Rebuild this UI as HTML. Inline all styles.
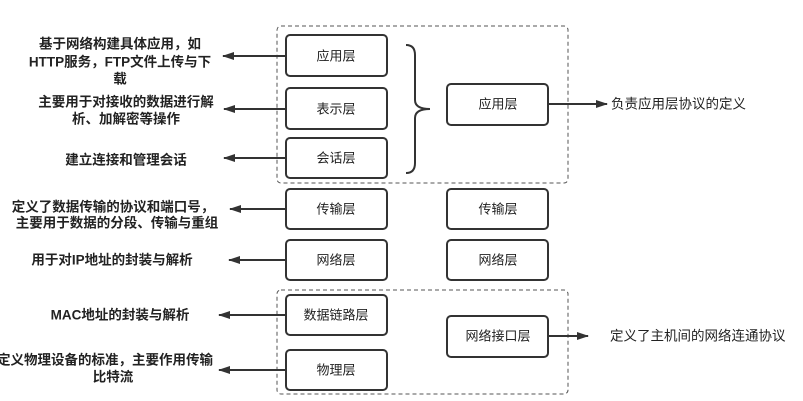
<!DOCTYPE html>
<html><head><meta charset="utf-8"><style>
body{margin:0;background:#fff;}
svg{display:block;font-family:"Liberation Sans","Noto Sans CJK SC",sans-serif;}
.b{fill:#fff;stroke:#333;stroke-width:2;}
.t{font-size:13px;fill:#222;text-anchor:middle;dominant-baseline:central;}
.l{font-size:13.5px;fill:#222;text-anchor:middle;dominant-baseline:central;font-weight:bold;}
.a{stroke:#333;stroke-width:2;fill:none;}
.d{fill:none;stroke:#555;stroke-width:1;stroke-dasharray:4,3;}
.r{font-size:13.5px;fill:#222;dominant-baseline:central;}
</style></head><body>
<svg width="803" height="401" viewBox="0 0 803 401">
<defs><marker id="m" markerWidth="12" markerHeight="8" refX="11" refY="4" orient="auto" markerUnits="userSpaceOnUse"><path d="M0,0 L12,4 L0,8 Z" fill="#333"/></marker></defs>
<rect class="d" x="277" y="26" width="291" height="157" rx="4"/>
<rect class="d" x="277" y="290" width="291" height="104" rx="4"/>
<rect class="b" x="286" y="35" width="101" height="41" rx="4"/><text class="t" x="336" y="56">应用层</text>
<rect class="b" x="286" y="88" width="101" height="41" rx="4"/><text class="t" x="336" y="109">表示层</text>
<rect class="b" x="286" y="138" width="101" height="40" rx="4"/><text class="t" x="336" y="158">会话层</text>
<rect class="b" x="286" y="189" width="101" height="40" rx="4"/><text class="t" x="336" y="209">传输层</text>
<rect class="b" x="286" y="240" width="101" height="40" rx="4"/><text class="t" x="336" y="260">网络层</text>
<rect class="b" x="286" y="295" width="101" height="40" rx="4"/><text class="t" x="336" y="315">数据链路层</text>
<rect class="b" x="286" y="350" width="101" height="40" rx="4"/><text class="t" x="336" y="370">物理层</text>
<rect class="b" x="447" y="84" width="101" height="41" rx="4"/><text class="t" x="498" y="104">应用层</text>
<rect class="b" x="447" y="189" width="101" height="40" rx="4"/><text class="t" x="498" y="209">传输层</text>
<rect class="b" x="447" y="240" width="101" height="40" rx="4"/><text class="t" x="498" y="260">网络层</text>
<rect class="b" x="447" y="316" width="101" height="41" rx="4"/><text class="t" x="498" y="336">网络接口层</text>
<path class="a" d="M406,45 Q415,45 415,55 L415,100 Q415,109 430,109 Q415,109 415,118 L415,163 Q415,173 406,173"/>
<line class="a" x1="286" y1="56" x2="223" y2="56" marker-end="url(#m)"/>
<line class="a" x1="286" y1="109" x2="224" y2="109" marker-end="url(#m)"/>
<line class="a" x1="286" y1="158" x2="224" y2="158" marker-end="url(#m)"/>
<line class="a" x1="286" y1="209" x2="230" y2="209" marker-end="url(#m)"/>
<line class="a" x1="286" y1="260" x2="229" y2="260" marker-end="url(#m)"/>
<line class="a" x1="286" y1="315" x2="219" y2="315" marker-end="url(#m)"/>
<line class="a" x1="286" y1="370" x2="219" y2="370" marker-end="url(#m)"/>
<line class="a" x1="548" y1="104" x2="607" y2="104" marker-end="url(#m)"/>
<line class="a" x1="548" y1="336" x2="588" y2="336" marker-end="url(#m)"/>
<text class="r" x="611" y="104">负责应用层协议的定义</text>
<text class="r" x="610" y="336">定义了主机间的网络连通协议</text>
<text class="l" x="120" y="44">基于网络构建具体应用，如</text>
<text class="l" x="120" y="62">HTTP服务，FTP文件上传与下</text>
<text class="l" x="120" y="79">载</text>
<text class="l" x="126" y="102">主要用于对接收的数据进行解</text>
<text class="l" x="126" y="119">析、加解密等操作</text>
<text class="l" x="126" y="160">建立连接和管理会话</text>
<text class="l" x="113" y="207">定义了数据传输的协议和端口号，</text>
<text class="l" x="117" y="223">主要用于数据的分段、传输与重组</text>
<text class="l" x="112" y="260">用于对IP地址的封装与解析</text>
<text class="l" x="120" y="315">MAC地址的封装与解析</text>
<text class="l" x="105" y="360">定义物理设备的标准，主要作用传输</text>
<text class="l" x="113" y="377">比特流</text>
</svg>
</body></html>
